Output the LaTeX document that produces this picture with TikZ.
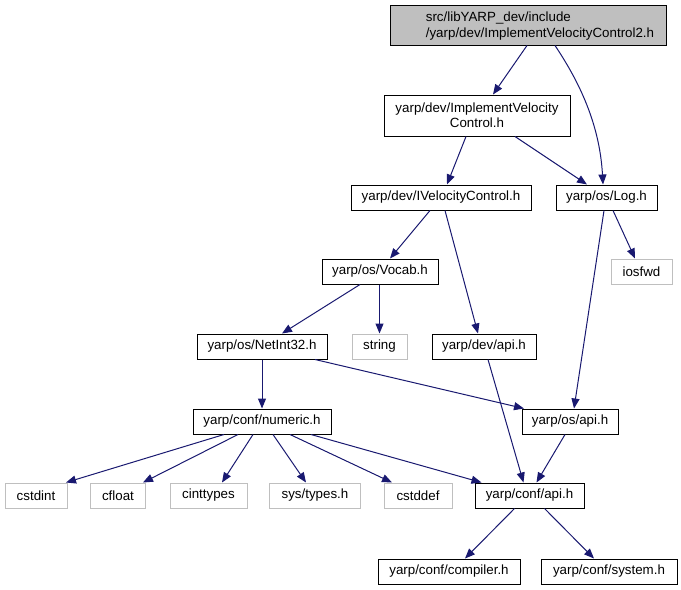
\documentclass[tikz,border=0pt]{standalone}
\usepackage{fontspec}
\setmainfont{Liberation Sans}
\usetikzlibrary{arrows.meta,calc}
\definecolor{edgeblue}{HTML}{191970}
\definecolor{extgray}{HTML}{BFBFBF}
\begin{document}
\begin{tikzpicture}[x=0.75pt,y=-0.75pt,
  file/.style={draw=black,line width=0.75pt,fill=white,inner sep=0pt,
    minimum height=18.75pt,font=\fontsize{10}{11.5}\selectfont},
  ext/.style={file,draw=extgray},
  dep/.style={draw=edgeblue,line width=0.75pt,
    -{Triangle[length=7.5pt,width=6pt]},color=edgeblue}]
\useasboundingbox (0,0) rectangle (681,589);

% header files
\node[file,fill=extgray,minimum width=207pt,minimum height=30pt,
  label={[font=\fontsize{10}{11.5}\selectfont,align=left,xshift=9pt,yshift=-0.75pt]center:{src/libYARP\_dev/include\\/yarp/dev/ImplementVelocityControl2.h}}] (top) at (528,25) {};
\node[file,minimum width=139.5pt,minimum height=30.75pt,align=center] (ivc) at (477,115.5)
  {yarp/dev/ImplementVelocity\\Control.h};
\node[file,minimum width=135pt] (ivel) at (441,197.5) {yarp/dev/IVelocityControl.h};
\node[file,minimum width=75.75pt] (log) at (606.5,197.5) {yarp/os/Log.h};
\node[file,minimum width=87pt] (vocab) at (380,271.5) {yarp/os/Vocab.h};
\node[ext,minimum width=45.75pt] (iosfwd) at (641.5,271.5) {iosfwd};
\node[file,minimum width=97.5pt] (netint) at (262,346.5) {yarp/os/NetInt32.h};
\node[ext,minimum width=41.25pt] (string) at (379.5,346.5) {string};
\node[file,minimum width=78pt] (devapi) at (484,346.5) {yarp/dev/api.h};
\node[file,minimum width=72pt] (osapi) at (570,421.5) {yarp/os/api.h};
\node[file,minimum width=103.5pt] (numeric) at (262,421.5) {yarp/conf/numeric.h};
\node[ext,minimum width=46.5pt] (cstdint) at (36,495.5) {cstdint};
\node[ext,minimum width=41.25pt] (cfloat) at (118,495.5) {cfloat};
\node[ext,minimum width=57.75pt] (cinttypes) at (208.5,495.5) {cinttypes};
\node[ext,minimum width=68.25pt] (systypes) at (315,495.5) {sys/types.h};
\node[ext,minimum width=51pt] (cstddef) at (418,495.5) {cstddef};
\node[file,minimum width=81.75pt] (confapi) at (529.5,495.5) {yarp/conf/api.h};
\node[file,minimum width=106.5pt] (compiler) at (449,571.5) {yarp/conf/compiler.h};
\node[file,minimum width=102pt] (system) at (609,571.5) {yarp/conf/system.h};

% include edges
\draw[dep] ($(top.south)+(-1,0)$) -- ($(ivc.north)+(16,0)$);
\draw[dep] ($(top.south)+(27,0)$) .. controls ($(top.south)+(47,30)$) and ($(log.north)+(-7,-65)$) .. ($(log.north)+(-3.5,0)$);
\draw[dep] ($(ivc.south)+(-11,0)$) -- ($(ivel.north)+(6,0)$);
\draw[dep] ($(ivc.south)+(38,0)$) -- ($(log.north)+(-19.5,0)$);
\draw[dep] ($(ivel.south)+(-11,0)$) -- ($(vocab.north)+(10,0)$);
\draw[dep] ($(ivel.south)+(4,0)$) -- ($(devapi.north)+(-6,0)$);
\draw[dep] ($(log.south)+(6.5,0)$) -- ($(iosfwd.north)+(-6.5,0)$);
\draw[dep] ($(log.south)+(-2.5,0)$) -- ($(osapi.north)+(4,0)$);
\draw[dep] ($(vocab.south)+(-20,0)$) -- ($(netint.north)+(20,0)$);
\draw[dep] (vocab.south -| string.north) -- (string.north);
\draw[dep] (netint.south) -- (numeric.north);
\draw[dep] ($(netint.south)+(53,0)$) -- ($(osapi.north)+(-46,0)$);
\draw[dep] ($(devapi.south)+(4,0)$) -- ($(confapi.north)+(-6,0)$);
\draw[dep] ($(osapi.south)+(-5,0)$) -- ($(confapi.north)+(7,0)$);
\draw[dep] ($(numeric.south)+(-38,0)$) -- ($(cstdint.north)+(30,0)$);
\draw[dep] ($(numeric.south)+(-24,0)$) -- ($(cfloat.north)+(25,0)$);
\draw[dep] ($(numeric.south)+(-9,0)$) -- ($(cinttypes.north)+(13.5,0)$);
\draw[dep] ($(numeric.south)+(11,0)$) -- ($(systypes.north)+(-9,0)$);
\draw[dep] ($(numeric.south)+(28,0)$) -- ($(cstddef.north)+(-26,0)$);
\draw[dep] ($(numeric.south)+(49,0)$) -- ($(confapi.north)+(-48,0)$);
\draw[dep] ($(confapi.south)+(-15,0)$) -- ($(compiler.north)+(16,0)$);
\draw[dep] ($(confapi.south)+(15,0)$) -- ($(system.north)+(-15,0)$);
\end{tikzpicture}
\end{document}
